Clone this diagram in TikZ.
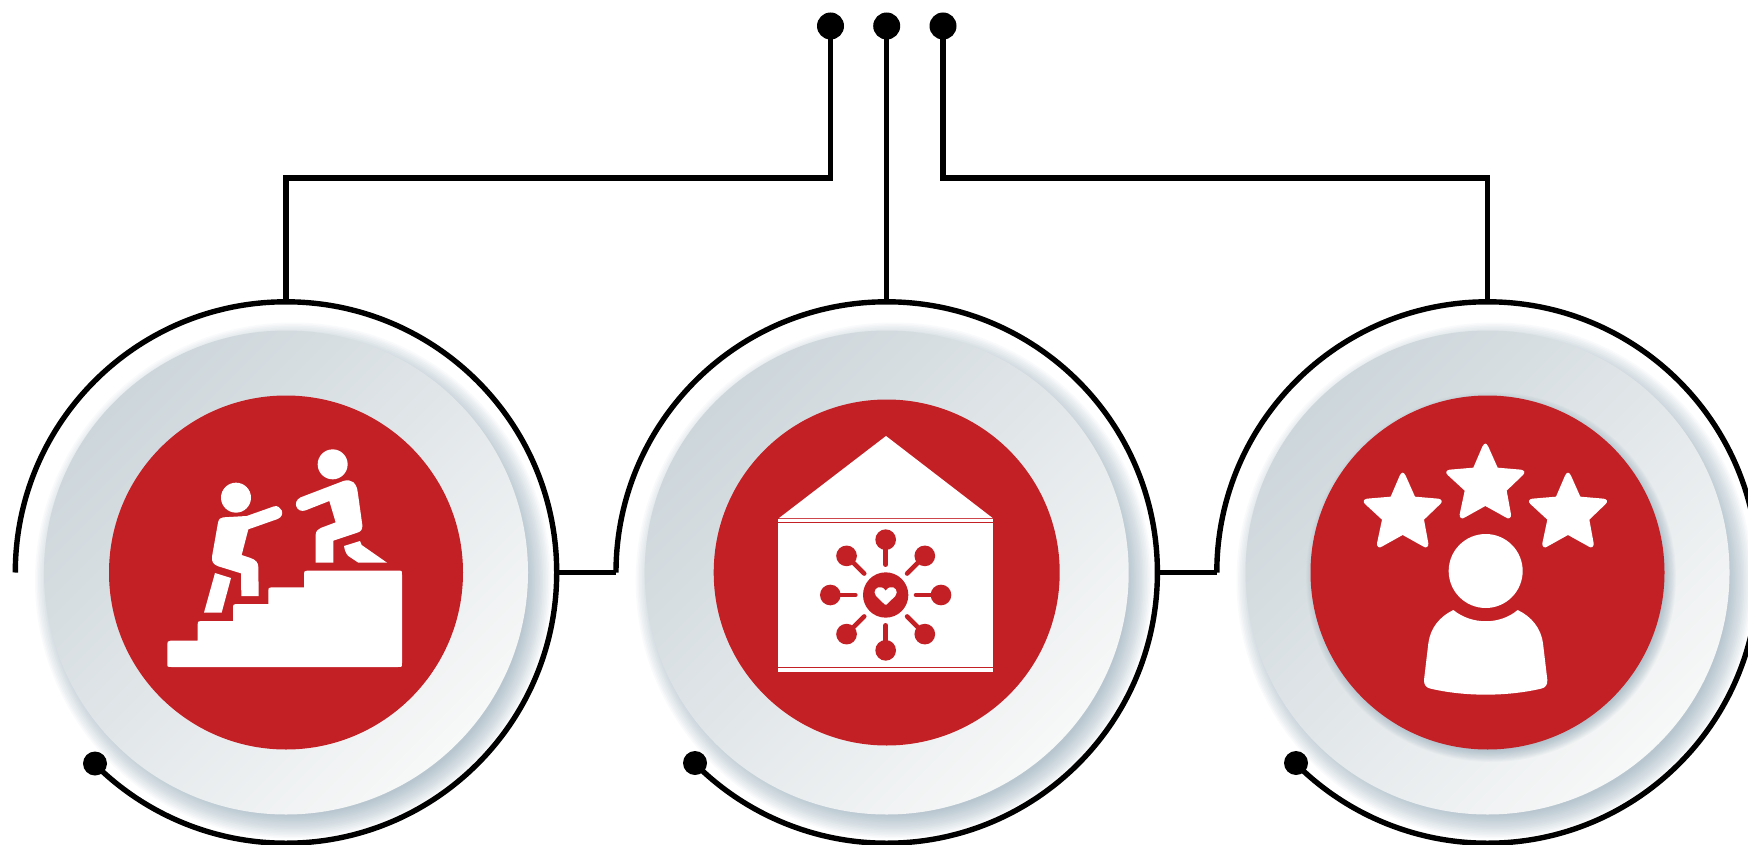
\documentclass[tikz,border=0pt]{standalone}
\usetikzlibrary{calc}
\definecolor{brandred}{HTML}{C32026}
\definecolor{shadowblue}{HTML}{7F9BAD}
\definecolor{discdark}{HTML}{CDD6DB}
\definecolor{disclight}{HTML}{F7F8F8}
\tikzset{
  wire/.style={line width=5.4pt,draw=black,line cap=butt,line join=miter},
  pin/.style={circle,fill=black,draw=none,inner sep=0pt,minimum size=#1},
  pin/.default=25pt,
  iconfill/.style={fill=white,draw=none},
  spoke/.style={draw=brandred,line width=4.6pt,line cap=round}
}
\newcommand{\softshadow}[4]{% x y radius spread
  \foreach \i in {0,...,15}{
    \fill[shadowblue,opacity=0.045] (#1,#2) circle[radius={#3+#4*(15-\i)/15}];
  }
}
\newcommand{\staricon}[2]{%
  \fill[iconfill,shift={(#1,#2)}]
    (-9,-178) .. controls (-3,-190) and (3,-190) .. (9,-178) -- (37,-115)
    -- (107,-109) .. controls (118,-107) and (120,-100) .. (113,-93) -- (64,-46)
    -- (77,25) .. controls (78,36) and (70,41) .. (61,34) -- (0,0)
    -- (-61,34) .. controls (-70,41) and (-78,36) .. (-77,25) -- (-62,-46)
    -- (-113,-93) .. controls (-120,-100) and (-118,-107) .. (-107,-109) -- (-36,-115) -- cycle;
}
\begin{document}
\begin{tikzpicture}[x=1pt,y=-1pt]
\useasboundingbox (0,0) rectangle (1748,845);
\clip (0,0) rectangle (1748,845);
\fill[white] (0,0) rectangle (1748,845);

% centres
\coordinate (ca) at (286,572.5);
\coordinate (cb) at (886.7,572.5);
\coordinate (cc) at (1487.5,572.5);

% discs
\foreach \cx in {286,886.7,1487.5}{
  \softshadow{\cx+7}{580.5}{234}{24}
  \shade[top color=discdark,bottom color=disclight,shading angle=45] (\cx,572.5) circle[radius=242];
}
\fill[brandred] (ca) circle[radius=177];
\fill[brandred] (cb) circle[radius=173];
\softshadow{1491}{577}{172}{13}
\fill[brandred] (cc) circle[radius=177];

% rings
\coordinate (rla) at (15.3,572.5);
\coordinate (rra) at (556.7,572.5);
\coordinate (rta) at (286,301.8);
\coordinate (rlb) at (616,572.5);
\coordinate (rrb) at (1157.4,572.5);
\coordinate (rtb) at (886.7,301.8);
\coordinate (rlc) at (1216.8,572.5);
\coordinate (rtc) at (1487.5,301.8);
\node[pin=24pt] (enda) at (95,763.5) {};
\node[pin=24pt] (endb) at (695,763) {};
\node[pin=24pt] (endc) at (1296,763) {};
\draw[wire] (rla) arc[start angle=180,end angle=493,radius=270.7];
\draw[wire] (rlb) arc[start angle=180,end angle=493,radius=270.7];
\draw[wire] (rlc) arc[start angle=180,end angle=493,radius=270.7];
\draw[wire] (rra) -- (rlb);
\draw[wire] (rrb) -- (rlc);

% top connectors
\node[pin=27pt] (pina) at (830.5,26) {};
\node[pin=27pt] (pinb) at (886.7,26) {};
\node[pin=27pt] (pinc) at (943,26) {};
\coordinate (kneea) at (830.5,178);
\coordinate (kneec) at (943,178);
\draw[wire] (pina.center) -- (kneea) -| (rta);
\draw[wire] (pinb.center) -- (rtb);
\draw[wire] (pinc.center) -- (kneec) -| (rtc);

% icon 1: stairs and two people
\begin{scope}[shift={(130,420)},scale=1/3]
  \fill[iconfill] (318,233) circle[radius=45];
  \fill[iconfill] (608,133) circle[radius=45];
  \fill[iconfill] (112,673) .. controls (112,665) .. (122,662) -- (203,662) -- (203,613) .. controls (203,605) .. (213,603) -- (309,603) -- (309,562) .. controls (309,554) .. (319,552) -- (415,552) -- (415,512) .. controls (415,504) .. (425,502) -- (522,502) -- (522,462) .. controls (522,454) .. (532,452) -- (804,452) .. controls (816,452) .. (816,464) -- (816,729) .. controls (816,741) .. (804,741) -- (124,741) .. controls (112,741) .. (112,729) -- cycle;
  \fill[iconfill] (280,292) -- (350,288) -- (432,259) .. controls (452,253) and (470,285) .. (443,297) -- (355,328) -- (335,405) -- (362,414) .. controls (378,420) and (385,428) .. (385,442) -- (386,528) -- (334,528) -- (333,460) -- (265,439) .. controls (250,434) and (244,424) .. (246,410) -- (264,308) .. controls (266,297) and (272,292) .. (280,292) -- cycle;
  \fill[iconfill] (255,459) -- (303,474) -- (275,578) -- (222,578) -- cycle;
  \fill[iconfill] (640,183) .. controls (665,175) and (680,190) .. (683,215) -- (697,315) .. controls (698,328) and (693,335) .. (682,338) -- (610,362) -- (610,428) -- (557,428) -- (557,345) .. controls (557,334) and (564,327) .. (572,324) -- (617,307) -- (598,243) -- (527,271) .. controls (500,281) and (485,245) .. (512,232) -- cycle;
  \fill[iconfill] (642,378) -- (690,363) -- (695,375) -- (771,428) -- (685,428) -- (655,408) .. controls (648,402) and (644,390) .. (642,378) -- cycle;
\end{scope}

% icon 2: house and network
\begin{scope}[shift={(750,420)},scale=1/3]
  \fill[iconfill] (408,48) -- (729,295) -- (86,295) -- cycle;
  \fill[iconfill] (85,297) rectangle (729,755);
  \draw[brandred,opacity=0.5,line width=1pt] (85,296) -- (729,296);
  \draw[brandred,line width=1.1pt] (85,308) -- (729,308);
  \draw[brandred,line width=1.1pt] (85,742) -- (729,742);
  \fill[brandred] (407,525) circle[radius=68];
  \foreach \a in {0,45,...,315}{
    \draw[spoke] ($(407,525)+(\a:91)$) -- ($(407,525)+(\a:150)$);
    \fill[brandred] ($(407,525)+(\a:166)$) circle[radius=31];
  }
  \fill[white,rounded corners=1pt] (407,556) -- (380,530) .. controls (366,514) and (382,497) .. (396,503) .. controls (402,505) and (405,510) .. (407,514) .. controls (409,510) and (412,505) .. (418,503) .. controls (432,497) and (448,514) .. (434,530) -- cycle;
\end{scope}

% icon 3: person and stars
\begin{scope}[shift={(1340,420)},scale=1/3]
  \staricon{436}{258}
  \staricon{188}{345}
  \staricon{684}{345}
  \fill[iconfill] (437,453) circle[radius=111];
  \fill[iconfill] (340,570) .. controls (395,615) and (480,615) .. (533,570) .. controls (575,590) and (603,625) .. (609,670) -- (622,780) .. controls (623,795) and (615,804) .. (603,806) .. controls (500,830) and (375,830) .. (272,806) .. controls (260,804) and (251,795) .. (252,780) -- (265,670) .. controls (271,625) and (298,590) .. (340,570) -- cycle;
\end{scope}
\end{tikzpicture}
\end{document}
